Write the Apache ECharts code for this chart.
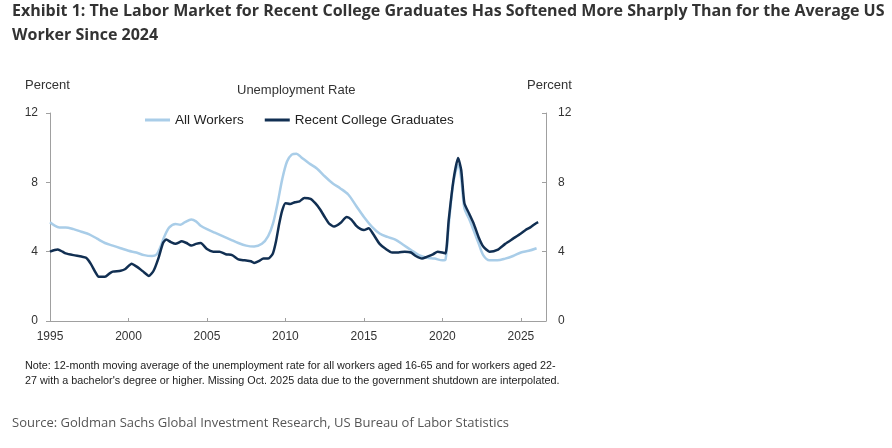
<!DOCTYPE html>
<html>
<head>
<meta charset="utf-8">
<script src="https://cdn.jsdelivr.net/npm/echarts@6/dist/echarts.min.js"></script>
<style>
  html, body { margin: 0; padding: 0; background: #fff; }
  #chart { width: 892px; height: 448px; }
</style>
</head>
<body>
<div id="chart"></div>
<script>
// 12-month moving averages (year, percent)
const allYears = [1995.0, 1995.3, 1995.6, 1996.0, 1996.5, 1997.0, 1997.5, 1998.0, 1998.5, 1999.0,
  1999.5, 2000.0, 2000.5, 2001.0, 2001.5, 2001.8, 2002.0, 2002.3, 2002.6, 2003.0,
  2003.3, 2003.6, 2004.0, 2004.3, 2004.6, 2005.0, 2005.5, 2006.0, 2006.5, 2007.0,
  2007.5, 2008.0, 2008.5, 2008.9, 2009.2, 2009.5, 2009.8, 2010.1, 2010.4, 2010.7,
  2011.0, 2011.5, 2012.0, 2012.5, 2013.0, 2013.5, 2014.0, 2014.5, 2015.0, 2015.5,
  2016.0, 2016.5, 2017.0, 2017.5, 2018.0, 2018.5, 2019.0, 2019.5, 2020.0, 2020.2,
  2020.4, 2020.7, 2021.0, 2021.2, 2021.4, 2021.7, 2022.0, 2022.3, 2022.6, 2023.0,
  2023.5, 2024.0, 2024.5, 2025.0, 2025.5, 2026.0]
const allWorkers = [5.7, 5.5, 5.4, 5.4, 5.3, 5.15, 5.0, 4.75, 4.5, 4.35,
  4.2, 4.05, 3.95, 3.8, 3.75, 3.85, 4.2, 4.9, 5.4, 5.6,
  5.55, 5.7, 5.85, 5.75, 5.5, 5.3, 5.1, 4.9, 4.7, 4.5,
  4.35, 4.3, 4.45, 4.9, 5.6, 6.8, 8.2, 9.2, 9.6, 9.65,
  9.45, 9.1, 8.8, 8.35, 7.95, 7.65, 7.3, 6.65, 6.0, 5.45,
  5.05, 4.85, 4.7, 4.4, 4.1, 3.8, 3.65, 3.6, 3.5, 3.55,
  5.5, 8.0, 9.0, 8.2, 6.5, 5.9, 5.2, 4.5, 3.8, 3.5,
  3.5, 3.6, 3.75, 3.95, 4.05, 4.2]

const gradYears = [1995.0, 1995.3, 1995.5, 1995.8, 1996.0, 1996.5, 1997.0, 1997.3, 1997.6, 1997.9,
  1998.1, 1998.5, 1998.8, 1999.0, 1999.5, 1999.8, 2000.2, 2000.5, 2000.8, 2001.0,
  2001.3, 2001.6, 2001.9, 2002.2, 2002.4, 2002.7, 2003.0, 2003.4, 2003.7, 2004.0,
  2004.3, 2004.6, 2005.0, 2005.4, 2005.8, 2006.2, 2006.6, 2007.0, 2007.4, 2007.8,
  2008.0, 2008.3, 2008.6, 2008.9, 2009.2, 2009.4, 2009.6, 2009.8, 2010.0, 2010.3,
  2010.6, 2010.9, 2011.2, 2011.6, 2011.9, 2012.2, 2012.5, 2012.8, 2013.1, 2013.5,
  2013.9, 2014.2, 2014.5, 2014.8, 2015.0, 2015.3, 2015.6, 2016.0, 2016.4, 2016.8,
  2017.2, 2017.6, 2018.0, 2018.3, 2018.7, 2019.0, 2019.4, 2019.7, 2020.0, 2020.2,
  2020.4, 2020.7, 2021.0, 2021.2, 2021.4, 2021.7, 2022.0, 2022.3, 2022.6, 2023.0,
  2023.5, 2024.0, 2024.5, 2025.0, 2025.3, 2025.6, 2025.9, 2026.1]
const recentGrads = [4.0, 4.1, 4.12, 4.0, 3.9, 3.8, 3.72, 3.65, 3.3, 2.8,
  2.55, 2.55, 2.75, 2.85, 2.9, 3.0, 3.3, 3.15, 2.95, 2.8,
  2.6, 2.9, 3.6, 4.5, 4.7, 4.55, 4.45, 4.6, 4.5, 4.35,
  4.45, 4.5, 4.15, 4.0, 4.0, 3.85, 3.8, 3.55, 3.5, 3.45,
  3.35, 3.45, 3.6, 3.6, 3.9, 4.6, 5.6, 6.4, 6.8, 6.75,
  6.85, 6.9, 7.1, 7.05, 6.8, 6.45, 6.0, 5.6, 5.45, 5.65,
  6.0, 5.85, 5.5, 5.3, 5.25, 5.35, 5.0, 4.45, 4.15, 3.95,
  3.95, 4.0, 3.95, 3.75, 3.6, 3.7, 3.85, 4.0, 3.95, 3.9,
  5.8, 8.1, 9.4, 8.7, 6.8, 6.2, 5.6, 4.85, 4.3, 4.0,
  4.1, 4.45, 4.75, 5.05, 5.25, 5.4, 5.6, 5.7]

const yTicks = [0, 4, 8, 12]

const titleLines = [
  'Exhibit 1: The Labor Market for Recent College Graduates Has Softened More Sharply Than for the Average US',
  'Worker Since 2024'
]
const noteLines = [
  'Note: 12-month moving average of the unemployment rate for all workers aged 16-65 and for workers aged 22-',
  '27 with a bachelor\'s degree or higher. Missing Oct. 2025 data due to the government shutdown are interpolated.'
]
const sourceText = 'Source: Goldman Sachs Global Investment Research, US Bureau of Labor Statistics'

const pair = (xs, ys) => xs.map((x, i) => [x, ys[i]])

const axisFont = 'Arial, "Liberation Sans", sans-serif'
const titleFont = '"Open Sans", Lato, sans-serif'
const axisColor = '#a0a0a0'

const chart = echarts.init(document.getElementById('chart'))

const yAxisBase = {
  type: 'value',
  min: yTicks[0],
  max: yTicks[yTicks.length - 1],
  interval: 4,
  splitLine: { show: false },
  axisLine: { show: true, lineStyle: { color: axisColor, width: 1 } },
  axisLabel: { color: '#333', fontFamily: axisFont, fontSize: 12, margin: 12 }
}

const option = {
  animation: false,
  backgroundColor: '#fff',
  graphic: [
    { type: 'text', left: 12, top: 3, style: { text: titleLines[0], fill: '#333', font: 'bold 16px ' + titleFont } },
    { type: 'text', left: 12, top: 27, style: { text: titleLines[1], fill: '#333', font: 'bold 16px ' + titleFont } },
    { type: 'text', left: 25, top: 79, style: { text: 'Percent', fill: '#333', font: '13px ' + axisFont } },
    { type: 'text', left: 527, top: 79, style: { text: 'Percent', fill: '#333', font: '13px ' + axisFont } },
    { type: 'text', left: 237, top: 84, style: { text: 'Unemployment Rate', fill: '#333', font: '13px ' + axisFont } },
    { type: 'text', left: 25, top: 361, style: { text: noteLines[0], fill: '#222', font: '10.8px ' + axisFont } },
    { type: 'text', left: 25, top: 376, style: { text: noteLines[1], fill: '#222', font: '10.8px ' + axisFont } },
    { type: 'text', left: 12, top: 417, style: { text: sourceText, fill: '#555', font: '13px ' + titleFont } }
  ],
  legend: {
    left: 145,
    top: 113,
    padding: 0,
    itemWidth: 25,
    itemHeight: 3,
    itemGap: 21,
    icon: 'rect',
    textStyle: { color: '#222', fontFamily: axisFont, fontSize: 13.5 },
    data: ['All Workers', 'Recent College Graduates']
  },
  grid: { left: 50, right: 346, top: 113, bottom: 127 },
  xAxis: {
    type: 'value',
    min: 1995,
    max: 2026.6,
    interval: 5,
    splitLine: { show: false },
    axisLine: { show: true, lineStyle: { color: axisColor, width: 1 } },
    axisTick: { show: true, inside: true, length: 3, lineStyle: { color: axisColor } },
    axisLabel: {
      color: '#333', fontFamily: axisFont, fontSize: 12, margin: 10, showMaxLabel: false,
      formatter: v => String(v)
    }
  },
  yAxis: [
    Object.assign({}, yAxisBase, {
      position: 'left',
      axisTick: { show: true, inside: false, length: 4, lineStyle: { color: axisColor } }
    }),
    Object.assign({}, yAxisBase, {
      position: 'right',
      axisTick: { show: true, inside: true, length: 4, lineStyle: { color: axisColor } }
    })
  ],
  series: [
    {
      name: 'All Workers',
      type: 'line',
      data: pair(allYears, allWorkers),
      showSymbol: false,
      smooth: 0.3,
      color: '#a9cde8',
      lineStyle: { width: 2.5, color: '#a9cde8' },
      z: 2
    },
    {
      name: 'Recent College Graduates',
      type: 'line',
      data: pair(gradYears, recentGrads),
      showSymbol: false,
      smooth: 0.2,
      color: '#112f52',
      lineStyle: { width: 2.5, color: '#112f52' },
      z: 3
    }
  ]
}

chart.setOption(option)
</script>
</body>
</html>
